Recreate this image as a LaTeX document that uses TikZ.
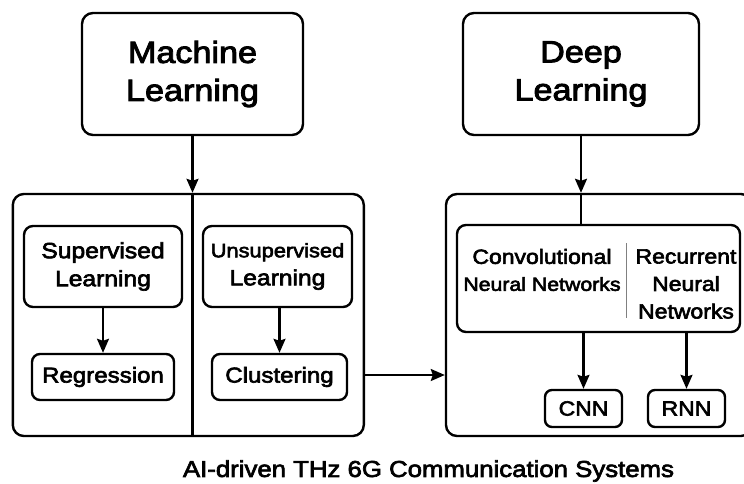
\documentclass[tikz,border=0pt]{standalone}
\usepackage[usenames, dvipsnames]{xcolor}
\usepackage{fontspec}
\setmainfont[FakeStretch=1.12, FakeBold=3]{Liberation Sans}
\usetikzlibrary{arrows.meta}

\begin{document}
\begin{tikzpicture}[x=1pt, y=-1pt,
    box/.style={draw, line width=2.4pt, rounded corners=9pt, align=center, inner sep=0pt},
    head/.style={box, rounded corners=11pt, font=\fontsize{30.5}{38}\selectfont},
    sub/.style={box, font=\fontsize{22}{28}\selectfont},
    leaf/.style={box, rounded corners=8pt, font=\fontsize{21.5}{26}\selectfont},
    frame/.style={draw, line width=2.4pt, rounded corners=11pt},
    link/.style={line width=2.1pt, -{Stealth[length=14pt, width=12pt, inset=2pt]}}]
    \useasboundingbox (0,0) rectangle (744,484);
    \clip (0,0) rectangle (744,484);
    \node[head, minimum width=221pt, minimum height=122pt] (ml) at (192.5,74) {Machine\\Learning};
    \node[head, minimum width=236pt, minimum height=122pt] (dl) at (581,74) {Deep\\Learning};
    \node[frame, minimum width=351pt, minimum height=242pt] (mlbox) at (188.3,315) {};
    \node[frame, minimum width=306pt, minimum height=242pt] (dlbox) at (599,315) {};
    \draw[line width=2.4pt] (ml.south |- mlbox.north) -- (ml.south |- mlbox.south);
    \draw[link] (ml.south) -- (ml.south |- mlbox.north);
    \node[sub, minimum width=158pt, minimum height=81pt] (sup) at (103,266.5) {Supervised\\Learning};
    \node[sub, minimum width=149pt, minimum height=81pt] (unsup) at (277.5,266.5) {{\fontsize{19.5}{28}\selectfont Unsupervised}\\Learning};
    \node[leaf, minimum width=142pt, minimum height=46pt] (reg) at (103,377) {Regression};
    \node[leaf, minimum width=135pt, minimum height=46pt] (clu) at (279.5,377) {Clustering};
    \draw[link] (sup) -- (reg);
    \draw[link] (clu.north |- unsup.south) -- (clu);
    \draw[link] ([yshift=-60pt]mlbox.east) -- ([yshift=-60pt]dlbox.west);
    \node[box, minimum width=283pt, minimum height=107pt] (nn) at (598.5,278.5) {};
    \draw[link] (dl.south) -- (dl.south |- dlbox.north);
    \draw[line width=2.1pt] (dl.south |- dlbox.north) -- (dl.south |- nn.north);
    \node[font=\fontsize{20.5}{27}\selectfont, align=center] (conv) at (542,270) {Convolutional\\{\fontsize{19}{27}\selectfont Neural Networks}};
    \node[font=\fontsize{20.5}{27.5}\selectfont, align=center] (rec) at (686,284) {Recurrent\\Neural\\Networks};
    \draw[gray, line width=1.2pt] (626.7,243) -- (626.7,318);
    \node[leaf, rounded corners=7pt, font=\fontsize{20.5}{24}\selectfont, minimum width=77pt, minimum height=37pt] (cnn) at (583.5,408.5) {CNN};
    \node[leaf, rounded corners=7pt, font=\fontsize{20.5}{24}\selectfont, minimum width=77pt, minimum height=37pt] (rnn) at (686.5,408.5) {RNN};
    \draw[link] (cnn.north |- nn.south) -- (cnn);
    \draw[link] (rnn.north |- nn.south) -- (rnn);
    \node[font=\fontsize{23}{27}\selectfont] (title) at (428.5,471) {AI-driven THz 6G Communication Systems};
\end{tikzpicture}
\end{document}
